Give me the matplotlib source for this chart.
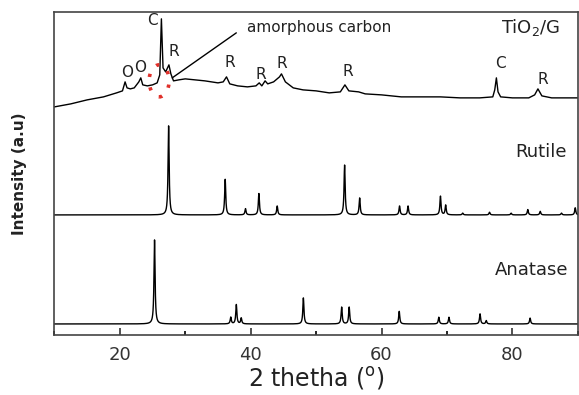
import numpy as np
import matplotlib
matplotlib.use("Agg")
import matplotlib.pyplot as plt
from matplotlib.patches import Ellipse
from matplotlib.ticker import MultipleLocator

# TiO2/G measured trace: 2theta (deg) and intensity (a.u., plot units)
tio2g_x = [10.0, 12.5, 15.0, 17.5, 19.5, 20.4, 20.8, 21.1, 21.6, 22.2, 22.9, 23.2,
           23.5, 24.2, 25.0, 25.7, 26.1, 26.35, 26.6, 27.0, 27.5, 27.8, 28.2, 29.0,
           30.0, 31.5, 33.0, 35.0, 35.8, 36.3, 36.8, 38.0, 39.5, 40.8, 41.3, 41.7,
           42.2, 42.6, 43.5, 44.4, 44.7, 45.3, 46.5, 48.0, 50.0, 52.0, 53.7, 54.4,
           55.0, 56.5, 57.5, 60.0, 63.0, 66.0, 69.0, 72.0, 75.0, 77.0, 77.3, 77.55,
           77.8, 78.2, 80.0, 82.5, 83.4, 83.9, 84.5, 86.0, 90.0]
tio2g_y = [228, 231, 235, 238, 242, 244, 253, 247, 246, 247, 253, 257,
           250, 249, 250, 252, 260, 316, 267, 263, 270, 261, 254, 255,
           256, 255, 254, 252, 253, 258, 251, 249, 248, 249, 252, 249,
           254, 251, 253, 258, 261, 253, 247, 245, 244, 242, 243, 250,
           244, 243, 241, 240, 238, 238, 238, 237, 237, 238, 245, 257,
           243, 238, 237, 237, 240, 246, 239, 237, 237]

# reference patterns: peak positions and relative intensities (%)
rutile_pos = [27.45, 36.1, 39.2, 41.25, 44.05, 54.35, 56.65, 62.75, 64.05, 69.0,
              69.8, 72.4, 76.5, 79.8, 82.35, 84.25, 87.5, 89.6]
rutile_int = [100, 40, 7, 24, 10, 56, 19, 10, 10, 21, 11, 2, 3, 2, 6, 4, 2, 8]
anatase_pos = [25.3, 36.95, 37.8, 38.55, 48.05, 53.9, 55.05, 62.7, 68.75, 70.3,
               75.05, 76.0, 82.7]
anatase_int = [100, 8, 23, 7, 31, 20, 20, 15, 8, 8, 12, 4, 7]

# peak labels for TiO2/G (letter, x, y)
labels = ["C", "O", "O", "R", "R", "R", "R", "R", "C", "R"]
label_x = [25.05, 21.07, 23.05, 28.24, 36.8, 41.5, 44.7, 54.8, 78.2, 84.6]
label_y = [314, 262, 267, 283, 272, 260, 271, 263, 271, 255]


def pattern(pos, inten, scale, base, tt, hwhm=0.1):
    y = np.zeros_like(tt)
    for p, i in zip(pos, inten):
        y += i / 100 * scale / (1 + ((tt - p) / hwhm) ** 2)
    return base + y


tt = np.arange(10, 90.001, 0.01)

fig = plt.figure(figsize=(5.79, 3.95), dpi=100)
ax = fig.add_axes([0.094, 0.152, 0.904, 0.818])

ax.plot(tio2g_x, tio2g_y, color="black", lw=1.0)
ax.plot(tt, pattern(rutile_pos, rutile_int, 89, 120, tt), color="black", lw=1.0)
ax.plot(tt, pattern(anatase_pos, anatase_int, 84, 11, tt), color="black", lw=1.0)

for s, x, y in zip(labels, label_x, label_y):
    ax.text(x, y, s, fontsize=11, ha="center", va="center", color="#222222")

ax.text(82.75, 307, "TiO$_2$/G", fontsize=13, ha="center", va="center", color="#222222")
ax.text(84.3, 183, "Rutile", fontsize=13, ha="center", va="center", color="#222222")
ax.text(82.9, 65, "Anatase", fontsize=13, ha="center", va="center", color="#222222")

# amorphous carbon marker
ax.add_patch(Ellipse((26.0, 254), 3.05, 32, fill=False, edgecolor="#e0302a",
                     lw=2.6, linestyle=(0, (0.9, 2.9)), zorder=3))
ax.annotate("", xy=(28.0, 257), xytext=(37.8, 302),
            arrowprops=dict(arrowstyle="-", color="black", lw=1.0,
                            shrinkA=0, shrinkB=0))
ax.text(39.4, 307, "amorphous carbon", fontsize=11, ha="left", va="center",
        color="#222222")

ax.set_xlim(10, 90)
ax.set_ylim(0, 323)
ax.set_yticks([])
ax.xaxis.set_major_locator(MultipleLocator(20))
ax.xaxis.set_minor_locator(MultipleLocator(10))
ax.tick_params(axis="x", which="major", direction="in", length=5, width=1.2,
               labelsize=13, colors="#333333", pad=8)
ax.tick_params(axis="x", which="minor", direction="in", length=3, width=1.2)
for sp in ax.spines.values():
    sp.set_color("#444444")
    sp.set_linewidth(1.2)

ax.set_xlabel("2 thetha ($^{\\mathregular{o}}$)", fontsize=17, color="#222222",
              labelpad=1)
ax.set_ylabel("Intensity (a.u)", fontsize=11, fontweight="bold", color="#222222",
              labelpad=20)

fig.savefig("out.png", dpi=100)
